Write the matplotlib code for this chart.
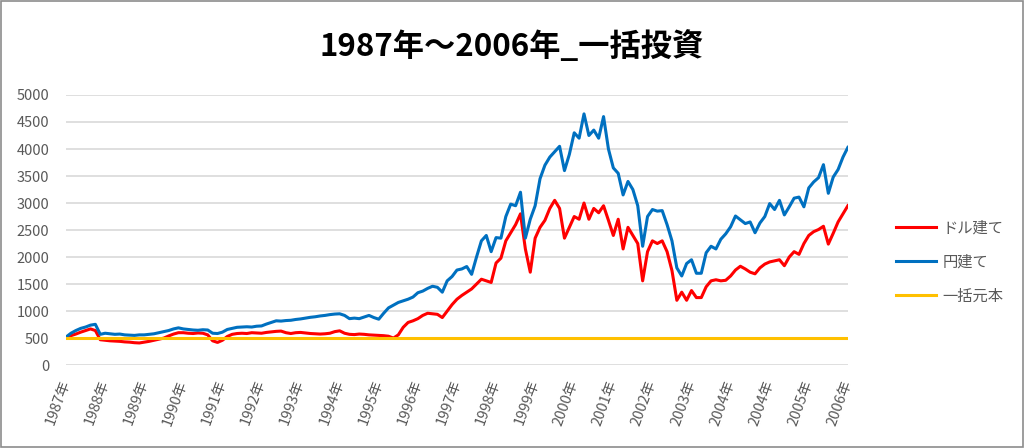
import matplotlib
matplotlib.use("Agg")
import matplotlib.pyplot as plt
from matplotlib.patches import Rectangle
import numpy as np

plt.rcParams['font.family'] = ['Noto Sans CJK JP', 'DejaVu Sans']

# Tick labels (category axis, as in the source sheet)
year_labels = ["1987年", "1988年", "1989年", "1990年", "1991年", "1992年", "1993年",
               "1994年", "1995年", "1996年", "1997年", "1998年", "1999年", "2000年",
               "2001年", "2002年", "2003年", "2004年", "2004年", "2005年", "2006年"]

# Values, 8 samples per label interval
dollar_values = [
    520, 545, 575, 610, 640, 670, 640, 470, 460, 450, 445, 440, 430, 425, 415, 410,
    425, 440, 460, 480, 500, 540, 575, 600, 600, 590, 585, 595, 590, 560, 450, 420,
    460, 530, 570, 585, 590, 585, 600, 595, 590, 605, 615, 625, 630, 600, 585, 600,
    605, 595, 585, 580, 575, 580, 590, 620, 635, 590, 570, 565, 575, 570, 560, 555,
    550, 545, 535, 500, 560, 700, 790, 820, 860, 920, 960, 950, 940, 880, 1000, 1120,
    1220, 1290, 1350, 1410, 1500, 1590, 1560, 1530, 1890, 1980, 2300, 2450, 2600, 2800, 2150, 1720,
    2350, 2550, 2680, 2900, 3050, 2900, 2350, 2550, 2750, 2700, 3000, 2700, 2900, 2820, 2950, 2680,
    2400, 2700, 2150, 2550, 2400, 2250, 1560, 2100, 2300, 2250, 2300, 2100, 1750, 1200, 1350, 1200,
    1380, 1250, 1250, 1450, 1560, 1580, 1560, 1570, 1650, 1760, 1830, 1780, 1720, 1690, 1800, 1870,
    1910, 1930, 1950, 1840, 2000, 2100, 2050, 2250, 2400, 2470, 2510, 2570, 2240, 2440, 2650, 2800,
    2950]

yen_values = [
    520, 590, 640, 680, 705, 740, 755, 570, 590, 580, 570, 575, 560, 555, 550, 560,
    560, 570, 580, 600, 620, 640, 670, 690, 670, 660, 650, 645, 655, 650, 590, 585,
    610, 660, 680, 700, 705, 710, 705, 720, 725, 760, 790, 820, 815, 825, 830, 845,
    855, 870, 885, 895, 910, 920, 935, 945, 950, 920, 860, 870, 860, 890, 920, 880,
    850, 960, 1060, 1110, 1160, 1190, 1220, 1260, 1340, 1370, 1420, 1460, 1440, 1350, 1560, 1640,
    1760, 1780, 1825, 1680, 2000, 2300, 2400, 2100, 2360, 2350, 2750, 2980, 2950, 3200, 2350, 2700,
    2950, 3450, 3700, 3850, 3950, 4050, 3600, 3900, 4300, 4200, 4650, 4250, 4350, 4200, 4600, 4000,
    3650, 3550, 3150, 3400, 3250, 2950, 2200, 2750, 2880, 2850, 2860, 2600, 2300, 1800, 1650, 1880,
    1950, 1700, 1700, 2080, 2200, 2150, 2330, 2430, 2560, 2760, 2690, 2620, 2650, 2450, 2630, 2750,
    2990, 2880, 3050, 2780, 2930, 3090, 3110, 2930, 3280, 3390, 3470, 3710, 3180, 3480, 3620, 3850,
    4030]

principal_value = 500
samples_per_label = 8

x = np.arange(len(yen_values))
principal = [principal_value] * len(x)

fig = plt.figure(figsize=(10.24, 4.48), dpi=100)
ax = fig.add_axes([0.0645, 0.185, 0.7635, 0.603])

ax.plot(x, dollar_values, color="#ff0000", lw=2.2, label="ドル建て")
ax.plot(x, yen_values, color="#0070c0", lw=2.2, label="円建て")
ax.plot(x, principal, color="#ffc000", lw=2.2, label="一括元本")

ax.set_xlim(0, len(x) - 1)
ax.set_ylim(0, 5000)
ax.set_yticks(range(0, 5001, 500))
ax.set_xticks(np.arange(len(year_labels)) * samples_per_label)
ax.set_xticklabels(year_labels, rotation=70, ha="right", va="center",
                   rotation_mode="anchor", fontsize=10.5, color="#595959")
ax.tick_params(axis="y", labelsize=10.5, labelcolor="#595959", length=0, pad=12)
ax.tick_params(axis="x", length=0, pad=11)
ax.grid(axis="y", color="#d9d9d9", lw=1.2)
ax.set_axisbelow(True)
for s in ax.spines.values():
    s.set_visible(False)

fig.text(0.5, 0.895, "1987年～2006年_一括投資", ha="center", va="center",
         fontsize=22.5, fontweight="bold", color="#000000")

ax.legend(loc="center left", bbox_to_anchor=(0.862, 0.415), bbox_transform=fig.transFigure,
          frameon=False, fontsize=11, labelcolor="#595959", handlelength=2.6,
          labelspacing=1.1, handletextpad=0.4)

fig.patches.append(Rectangle((0.001, 0.002), 0.998, 0.996, transform=fig.transFigure,
                             fill=False, edgecolor="#8c8c8c", lw=1.2))

fig.savefig("out.png", dpi=100)
